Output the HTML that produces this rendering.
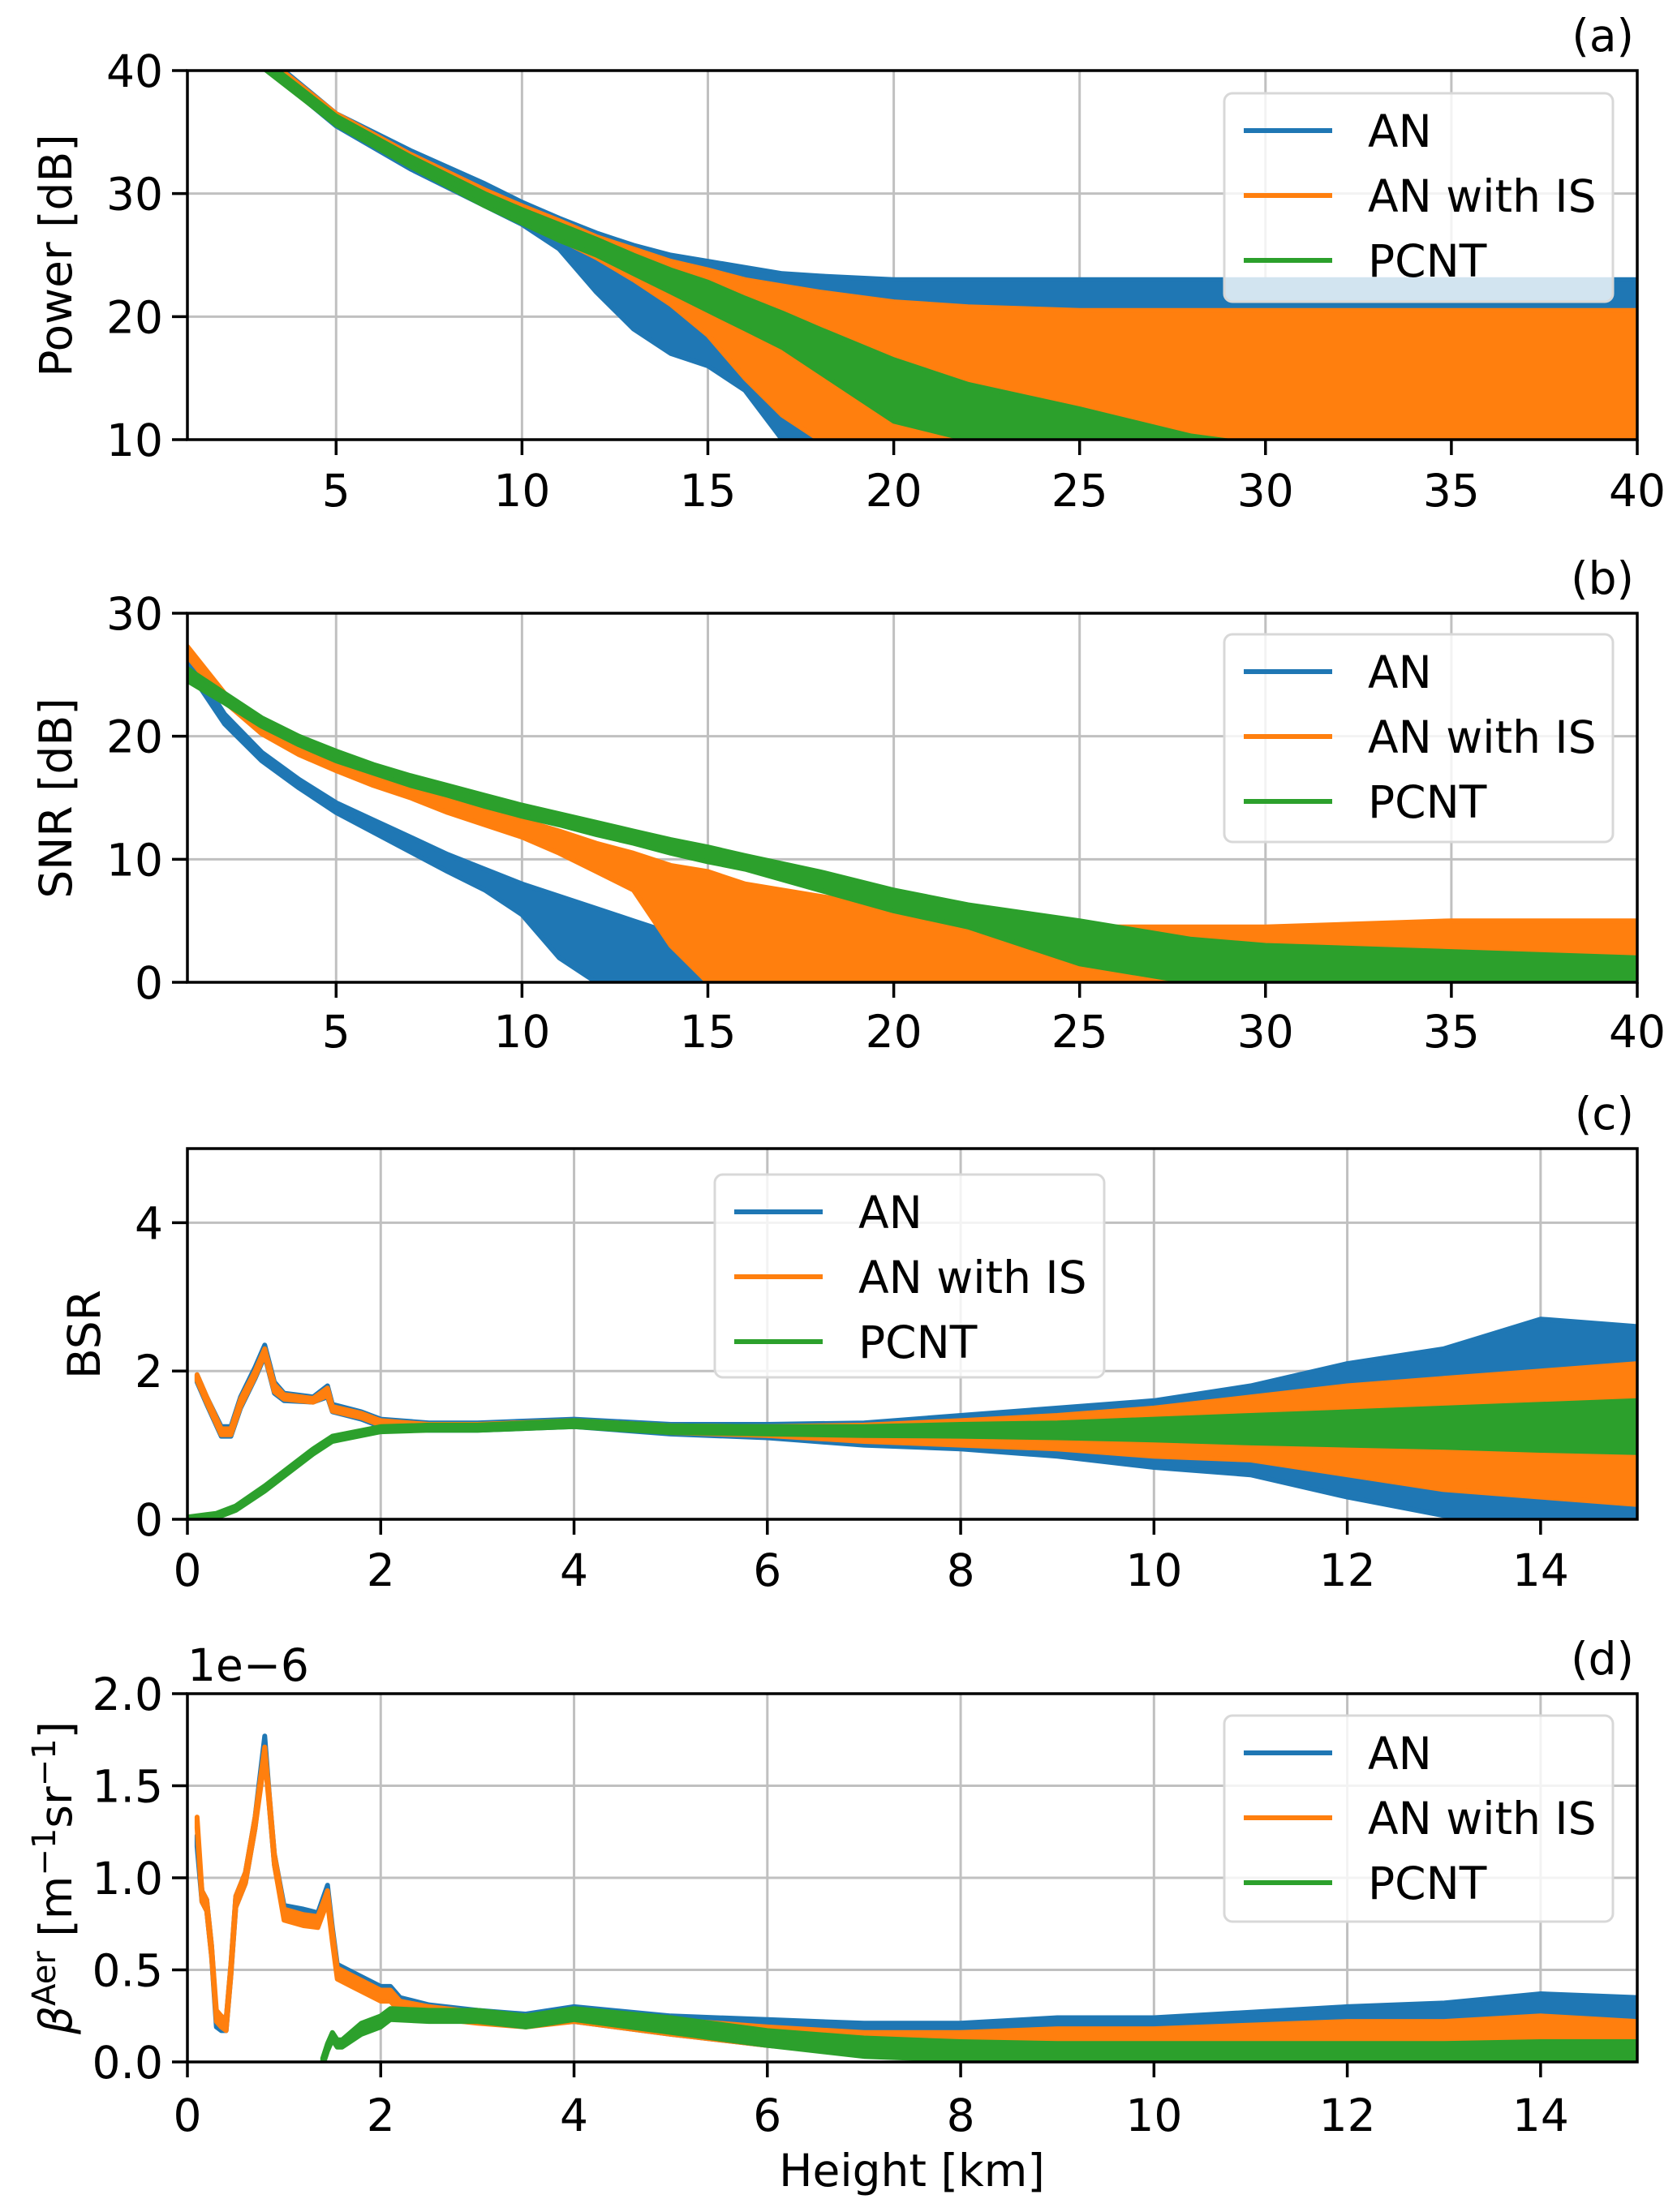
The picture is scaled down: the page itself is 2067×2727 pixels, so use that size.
<!DOCTYPE html>
<html><head><meta charset="utf-8"><style>
html,body{margin:0;padding:0;background:#fff;}
svg{display:block;}
text{font-family:"DejaVu Sans","Liberation Sans",sans-serif;fill:#000;}
</style></head><body>
<svg id="fig" xmlns="http://www.w3.org/2000/svg" width="2067" height="2727" viewBox="0 0 2067 2727"></svg>
<script>
// ---- Panel (a) data: Power [dB] vs height [km]
const aX = [1,3,5,7,9,10,11,12,13,14,15,16,17,18,20,22,25,28,30,35,40];
const aBlueHi = [48,41.5,36.5,33.5,30.8,29.3,28,26.8,25.8,25,24.5,24,23.5,23.3,23,23,23,23,23,23,23];
const aBlueLo = [47,40.5,35.5,32,29,27.5,25.5,22,19,17,16,14,10,10,10,10,10,10,10,10,10];
const aOrangeHi = [48,41.3,36.5,33.2,30.3,29,27.8,26.5,25.5,24.5,23.8,23,22.5,22,21.2,20.8,20.5,20.5,20.5,20.5,20.5];
const aOrangeLo = [47,40.5,35.7,32.3,29.3,27.8,26.3,24.8,23,21,18.5,15,12,10,10,10,10,10,10,10,10];
const aGreenHi = [48,41,36.3,33,30,28.7,27.5,26.3,25,23.8,22.8,21.5,20.3,19,16.5,14.5,12.5,10.3,9.5,9.5,9.5];
const aGreenLo = [47,40.3,35.6,32.2,29,27.6,26.2,25,23.5,22,20.5,19,17.5,15.5,11.5,10,10,10,9.5,9.5,9.5];
const aXTicks = [5,10,15,20,25,30,35,40];
const aYTicks = [10,20,30,40];
// ---- Panel (b) data: SNR [dB]
const bX = [1,2,3,4,5,6,7,8,9,10,11,12,13,14,15,16,18,20,22,25,28,30,35,40];
const bBlueHi = [26.5,21.8,18.7,16.5,14.6,13.2,11.8,10.4,9.2,8,7,6,5,4,3,2,-1,-1,-1,-1,-1,-1,-1,-1];
const bBlueLo = [25.5,21,18,15.8,13.8,12.2,10.6,9,7.5,5.5,2,0,0,0,0,0,-1,-1,-1,-1,-1,-1,-1,-1];
const bOrangeHi = [27.3,23.5,21,19.5,18.2,17,16,15,14,13.2,12.3,11.3,10.5,9.5,9,8,7,6,5,4.5,4.5,4.5,5,5];
const bOrangeLo = [26.5,22.8,20.2,18.5,17.2,16,15,13.8,12.8,11.8,10.5,9,7.5,3,0,0,0,0,0,0,0,0,0,0];
const bGreenHi = [25.5,23.5,21.5,20,18.8,17.7,16.8,16,15.2,14.4,13.7,13,12.3,11.6,11,10.3,9,7.5,6.3,5,3.5,3,2.5,2];
const bGreenLo = [24.5,22.7,20.8,19.3,18,17,16,15.2,14.3,13.5,12.8,12,11.3,10.5,9.8,9.2,7.5,5.8,4.5,1.5,0,0,0,0];
const bXTicks = [5,10,15,20,25,30,35,40];
const bYTicks = [0,10,20,30];
// ---- Panel (c) data: BSR
const cX = [0.1,0.2,0.35,0.45,0.55,0.7,0.8,0.9,1.0,1.3,1.45,1.5,1.8,2,2.5,3,4,5,6,7,8,9,10,11,12,13,14,15];
const cBlueHi = [1.95,1.65,1.25,1.25,1.65,2.05,2.35,1.85,1.7,1.65,1.8,1.55,1.45,1.35,1.3,1.3,1.35,1.28,1.28,1.3,1.4,1.5,1.6,1.8,2.1,2.3,2.7,2.6];
const cBlueLo = [1.85,1.55,1.12,1.12,1.5,1.9,2.2,1.7,1.6,1.58,1.65,1.45,1.35,1.25,1.2,1.2,1.25,1.15,1.1,1.0,0.95,0.85,0.7,0.6,0.3,0.05,0,0];
const cOrangeHi = [1.95,1.65,1.22,1.22,1.62,2.0,2.3,1.82,1.68,1.63,1.77,1.52,1.43,1.33,1.28,1.28,1.33,1.26,1.25,1.27,1.33,1.4,1.5,1.65,1.8,1.9,2.0,2.1];
const cOrangeLo = [1.87,1.57,1.14,1.14,1.52,1.92,2.22,1.72,1.62,1.58,1.67,1.46,1.37,1.27,1.22,1.22,1.27,1.17,1.13,1.05,1.0,0.95,0.85,0.8,0.6,0.4,0.3,0.2];
const cGX = [0,0.3,0.5,0.8,1.0,1.3,1.5,2,2.5,3,4,5,6,7,8,9,10,11,12,13,14,15];
const cGreenHi = [0.03,0.08,0.18,0.45,0.65,0.95,1.12,1.25,1.27,1.27,1.33,1.26,1.25,1.25,1.28,1.3,1.35,1.4,1.45,1.5,1.55,1.6];
const cGreenLo = [0,0.02,0.12,0.38,0.58,0.88,1.05,1.18,1.2,1.2,1.25,1.17,1.15,1.13,1.12,1.1,1.07,1.03,1.0,0.97,0.93,0.9];
const cXTicks = [0,2,4,6,8,10,12,14];
const cYTicks = [0,2,4];
// ---- Panel (d) data: beta aer (x1e-6)
const dX = [0.1,0.15,0.2,0.25,0.3,0.35,0.4,0.45,0.5,0.6,0.7,0.8,0.85,0.9,1.0,1.2,1.35,1.45,1.5,1.55,1.7,2.0,2.1,2.2,2.5,3,3.5,4,5,6,7,8,9,10,11,12,13,14,15];
const dBlueMean = [1.2,0.9,0.85,0.6,0.22,0.2,0.2,0.5,0.87,1.0,1.3,1.74,1.4,1.1,0.82,0.8,0.78,0.93,0.7,0.5,0.46,0.38,0.38,0.32,0.28,0.25,0.23,0.26,0.2,0.16,0.13,0.12,0.14,0.14,0.15,0.17,0.18,0.2,0.2];
const dBlueSpread = [0.03,0.03,0.03,0.03,0.03,0.03,0.03,0.03,0.03,0.03,0.03,0.03,0.03,0.03,0.03,0.03,0.03,0.03,0.03,0.03,0.03,0.03,0.03,0.03,0.03,0.03,0.03,0.04,0.05,0.07,0.08,0.09,0.1,0.1,0.12,0.13,0.14,0.17,0.15];
const dOrangeMean = [1.3,0.9,0.85,0.6,0.25,0.22,0.2,0.5,0.87,1.0,1.3,1.68,1.4,1.1,0.8,0.77,0.76,0.9,0.68,0.48,0.44,0.36,0.36,0.3,0.27,0.24,0.22,0.25,0.19,0.14,0.1,0.09,0.1,0.1,0.11,0.12,0.12,0.13,0.12];
const dOrangeSpread = [0.03,0.03,0.03,0.03,0.03,0.03,0.03,0.03,0.03,0.03,0.03,0.03,0.03,0.03,0.03,0.03,0.03,0.03,0.03,0.03,0.03,0.03,0.03,0.03,0.03,0.03,0.03,0.03,0.04,0.05,0.06,0.07,0.08,0.08,0.09,0.1,0.1,0.12,0.1];
const dGX = [1.4,1.45,1.5,1.55,1.6,1.8,2.0,2.1,2.5,3,3.5,4,5,6,7,8,9,10,11,12,13,14,15];
const dGreenMean = [0.0,0.08,0.14,0.1,0.1,0.18,0.22,0.26,0.25,0.25,0.22,0.26,0.2,0.13,0.08,0.06,0.05,0.05,0.05,0.05,0.05,0.06,0.06];
const dGreenSpread = [0.02,0.02,0.02,0.02,0.02,0.03,0.03,0.03,0.03,0.03,0.03,0.03,0.04,0.04,0.05,0.05,0.05,0.05,0.05,0.05,0.05,0.05,0.05];
const dXTicks = [0,2,4,6,8,10,12,14];
const dYTicks = [0,0.5,1.0,1.5,2.0];
const dYTickLabels = ["0.0","0.5","1.0","1.5","2.0"];
const seriesNames = ["AN","AN with IS","PCNT"];

const NS = "http://www.w3.org/2000/svg";
const svg = document.getElementById('fig');
const COLORS = ["#1f77b4","#ff7f0e","#2ca02c"];
const L = 231, R = 2018;
const FS = 55;
function mk(tag, attrs, parent){
  const e = document.createElementNS(NS, tag);
  for (const k in attrs) e.setAttribute(k, attrs[k]);
  (parent||svg).appendChild(e);
  return e;
}
function hiLo(mean, spread, sign){ return mean.map((m,i)=>m + sign*spread[i]); }

function panel(id, top, bot, xmin, xmax, ymin, ymax, xticks, yticks, ylabels, series, legend, tag, xlabelY){
  const g = mk('g', {});
  
  
  const sx = v => L + (v - xmin) / (xmax - xmin) * (R - L);
  const sy = v => bot - (v - ymin) / (ymax - ymin) * (bot - top);
  xticks.forEach(t => {
    const ln = mk('line', {x1:sx(t), x2:sx(t), y1:top, y2:bot, stroke:'#c0c0c0', 'stroke-width':3}, g);
    
    
  });
  yticks.forEach(t => {
    const ln = mk('line', {x1:L, x2:R, y1:sy(t), y2:sy(t), stroke:'#c0c0c0', 'stroke-width':3}, g);
    
    
  });
  const cp = mk('clipPath', {id:'clip-' + id}, g);
  mk('rect', {x:L, y:top, width:R-L, height:bot-top}, cp);
  const sg = mk('g', {'clip-path':'url(#clip-' + id + ')'}, g);
  series.forEach((s, si) => {
    let d = '';
    s.x.forEach((x,i) => { d += (i ? 'L' : 'M') + sx(x).toFixed(1) + ',' + sy(s.hi[i]).toFixed(1); });
    for (let i = s.x.length - 1; i >= 0; i--) d += 'L' + sx(s.x[i]).toFixed(1) + ',' + sy(s.lo[i]).toFixed(1);
    d += 'Z';
    const p = mk('path', {d:d, fill:COLORS[si], stroke:COLORS[si], 'stroke-width':6, 'stroke-linejoin':'round'}, sg);
    
    
  });
  const fr = mk('rect', {x:L, y:top, width:R-L, height:bot-top, fill:'none', stroke:'#000', 'stroke-width':3.5}, g);
  
  
  xticks.forEach(t => {
    mk('line', {x1:sx(t), x2:sx(t), y1:bot, y2:bot+19, stroke:'#000', 'stroke-width':3.5}, g);
    const tx = mk('text', {x:sx(t), y:xlabelY, 'font-size':FS, 'text-anchor':'middle'}, g);
    tx.textContent = String(t);
    
    
  });
  yticks.forEach((t,i) => {
    mk('line', {x1:L-19, x2:L, y1:sy(t), y2:sy(t), stroke:'#000', 'stroke-width':3.5}, g);
    const tx = mk('text', {x:L-30, y:sy(t)+20, 'font-size':FS, 'text-anchor':'end'}, g);
    tx.textContent = ylabels ? ylabels[i] : String(t);
    
    
  });
  const pt = mk('text', {x:2014, y:top-24, 'font-size':FS, 'text-anchor':'end'}, g);
  pt.textContent = tag;
  
  
  const lg = mk('g', {}, g);
  
  
  mk('rect', {x:legend.x, y:legend.y, width:legend.w, height:legend.h, rx:10, fill:'#fff', 'fill-opacity':0.8, stroke:'#d8d8d8', 'stroke-width':3}, lg);
  seriesNames.forEach((n, i) => {
    const yy = legend.y + 46 + i * 80;
    mk('line', {x1:legend.x+24, x2:legend.x+133, y1:yy, y2:yy, stroke:COLORS[i], 'stroke-width':6}, lg);
    const tx = mk('text', {x:legend.x+177, y:yy+20, 'font-size':FS}, lg);
    tx.textContent = n;
    
    
  });
  return {sx, sy};
}

panel('a', 87, 542, 1, 40, 10, 40, aXTicks, aYTicks, null, [
  {name:'an', x:aX, hi:aBlueHi, lo:aBlueLo},
  {name:'an-with-is', x:aX, hi:aOrangeHi, lo:aOrangeLo},
  {name:'pcnt', x:aX, hi:aGreenHi, lo:aGreenLo}
], {x:1509, y:115, w:479, h:257}, '(a)', 624);

panel('b', 756, 1211, 1, 40, 0, 30, bXTicks, bYTicks, null, [
  {name:'an', x:bX, hi:bBlueHi, lo:bBlueLo},
  {name:'an-with-is', x:bX, hi:bOrangeHi, lo:bOrangeLo},
  {name:'pcnt', x:bX, hi:bGreenHi, lo:bGreenLo}
], {x:1509, y:782, w:479, h:256}, '(b)', 1291);

panel('c', 1416, 1873, 0, 15, 0, 5, cXTicks, cYTicks, null, [
  {name:'an', x:cX, hi:cBlueHi, lo:cBlueLo},
  {name:'an-with-is', x:cX, hi:cOrangeHi, lo:cOrangeLo},
  {name:'pcnt', x:cGX, hi:cGreenHi, lo:cGreenLo}
], {x:881, y:1448, w:480, h:250}, '(c)', 1955);

panel('d', 2088, 2542, 0, 15, 0, 2, dXTicks, dYTicks, dYTickLabels, [
  {name:'an', x:dX, hi:hiLo(dBlueMean,dBlueSpread,1), lo:hiLo(dBlueMean,dBlueSpread,-1)},
  {name:'an-with-is', x:dX, hi:hiLo(dOrangeMean,dOrangeSpread,1), lo:hiLo(dOrangeMean,dOrangeSpread,-1)},
  {name:'pcnt', x:dGX, hi:hiLo(dGreenMean,dGreenSpread,1), lo:hiLo(dGreenMean,dGreenSpread,-1)}
], {x:1509, y:2115, w:479, h:254}, '(d)', 2627);

function lab(txt, x, y, rot, name){
  const t = mk('text', {x:x, y:y, 'font-size':FS, 'text-anchor':'middle', transform: rot ? 'rotate(-90 '+x+' '+y+')' : ''});
  t.textContent = txt;
  
  
  return t;
}
lab('Power [dB]', 88, 315, true, 'y-axis-title-power');
lab('SNR [dB]', 88, 984, true, 'y-axis-title-snr');
lab('BSR', 123, 1645, true, 'y-axis-title-bsr');
lab('Height [km]', 1124, 2695, false, 'x-axis-title');
const off = mk('text', {x:231, y:2072, 'font-size':FS});
off.textContent = '1e\u22126';


const bl = mk('text', {x:88, y:2315, 'font-size':FS, 'text-anchor':'middle', transform:'rotate(-90 88 2315)'});


bl.innerHTML = '<tspan font-style="italic">β</tspan><tspan dy="-20" font-size="40">Aer</tspan><tspan dy="20"> [m</tspan><tspan dy="-20" font-size="40">−1</tspan><tspan dy="20">sr</tspan><tspan dy="-20" font-size="40">−1</tspan><tspan dy="20">]</tspan>';
</script>
</body></html>
